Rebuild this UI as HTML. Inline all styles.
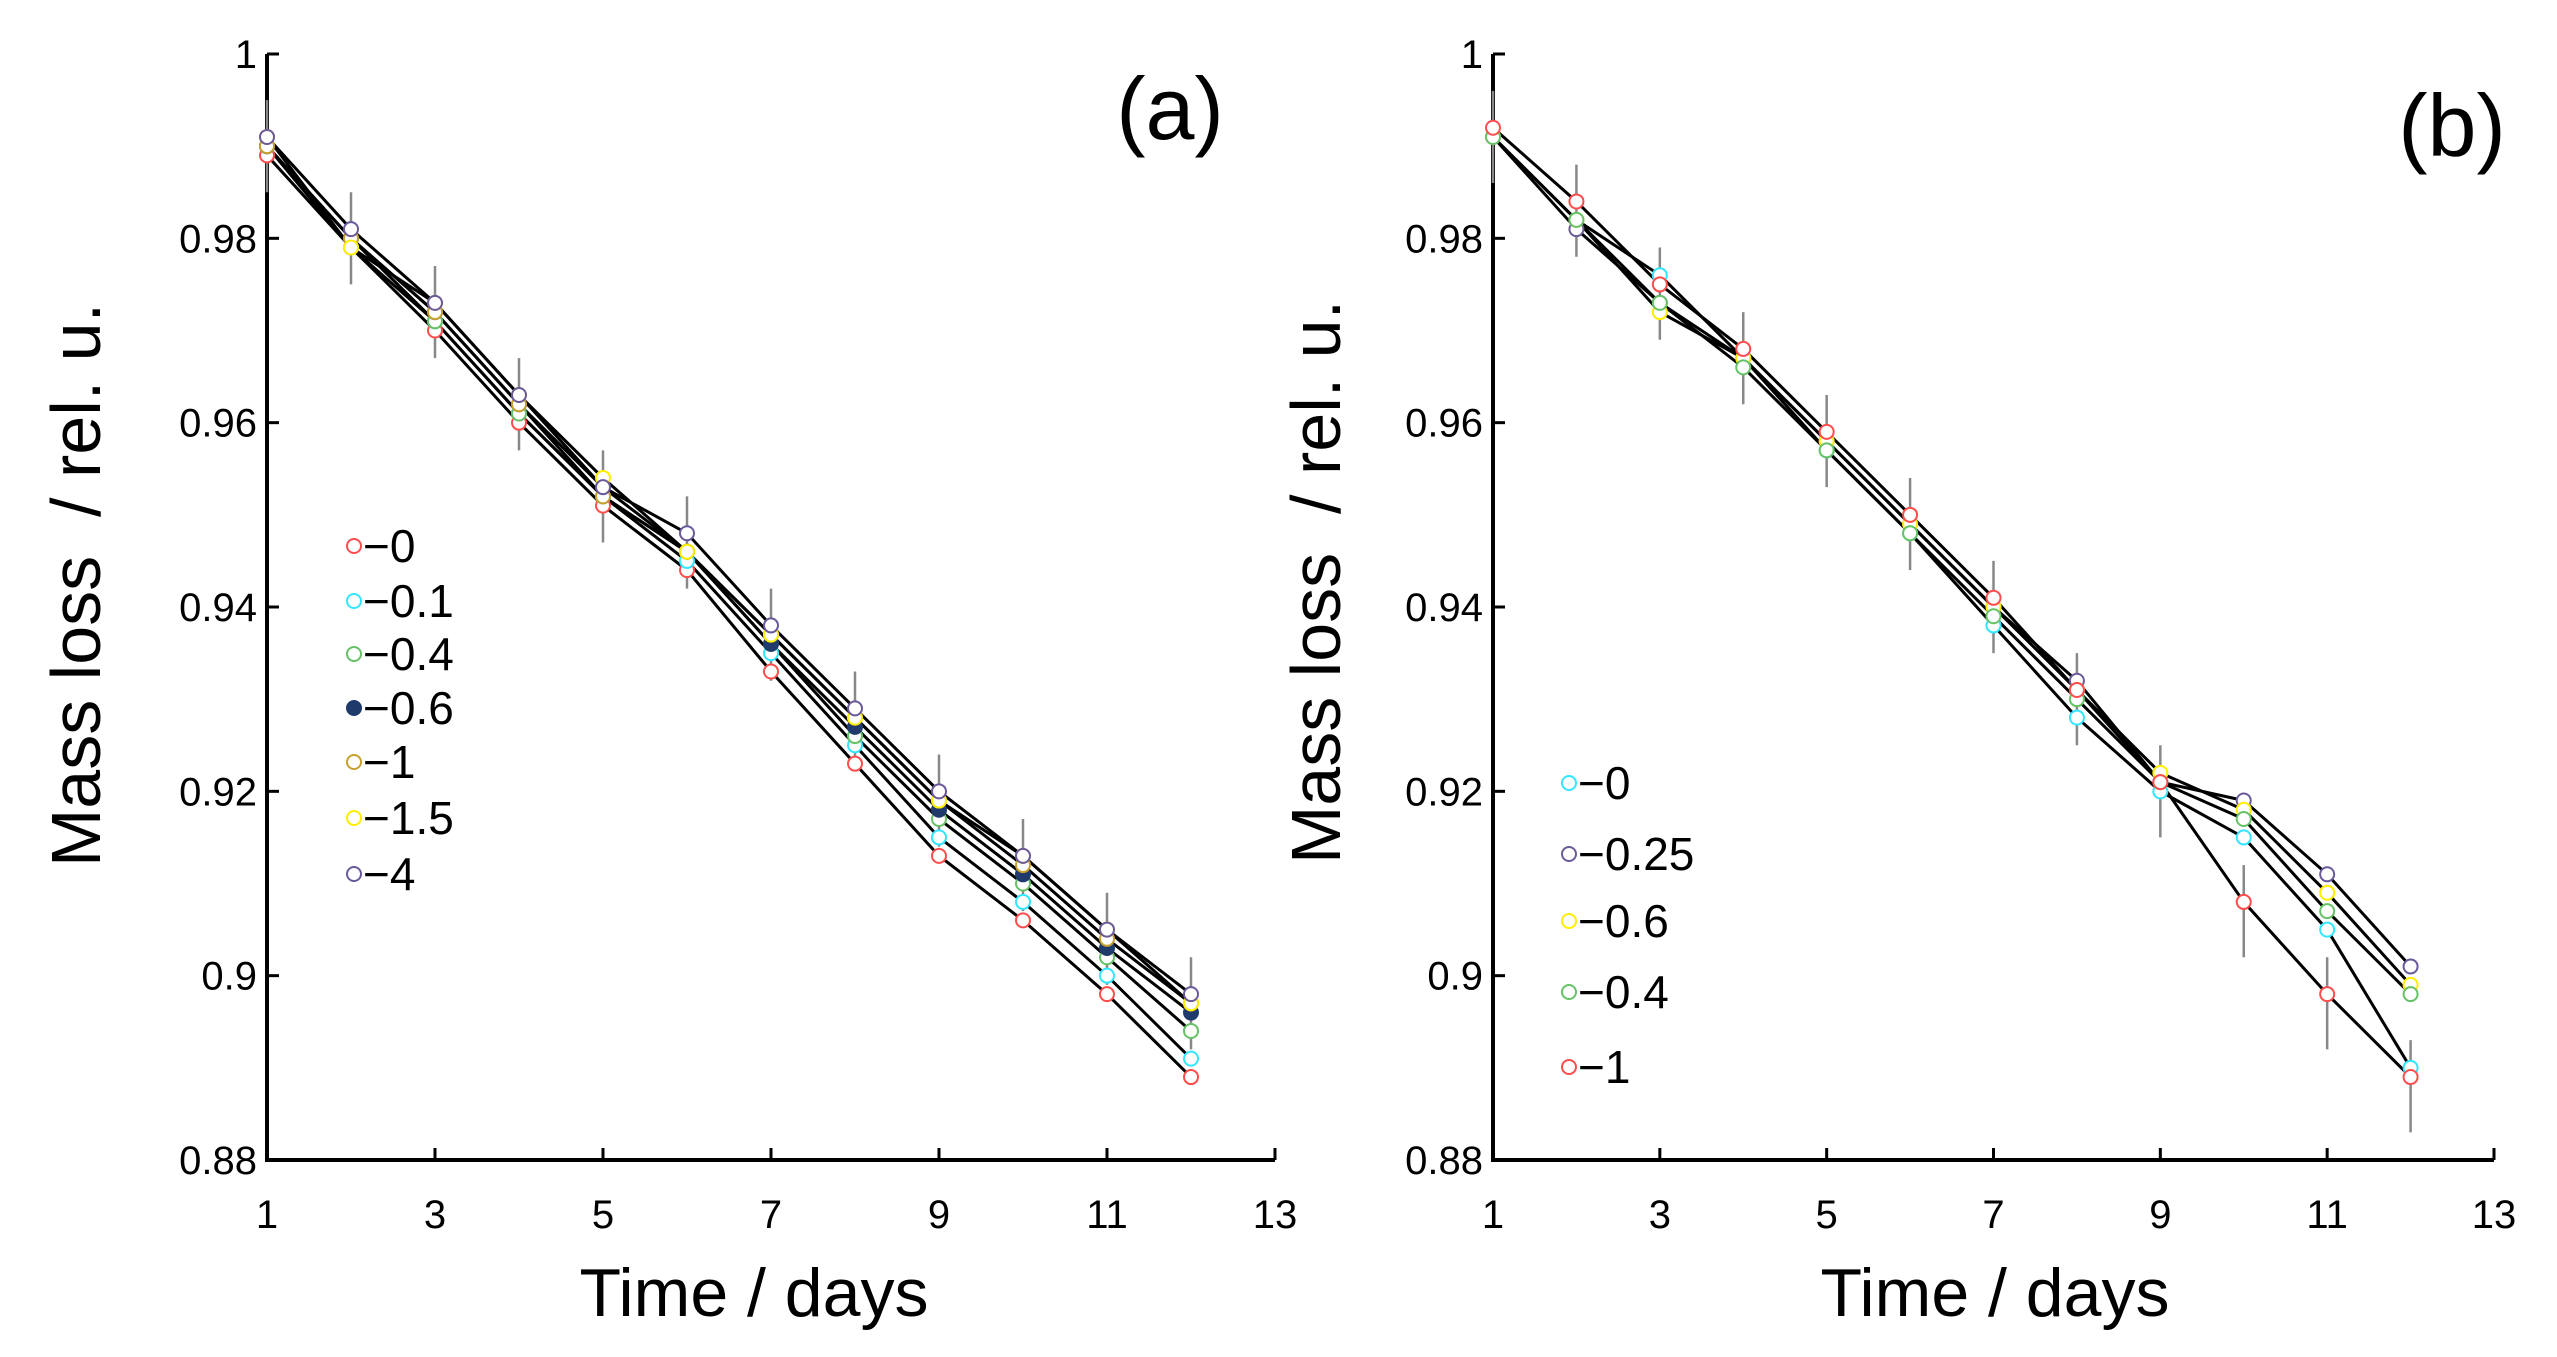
<!DOCTYPE html>
<html><head><meta charset="utf-8"><style>
html,body{margin:0;padding:0;background:#fff}
svg{display:block}
text{font-family:"Liberation Sans",Arial,sans-serif;fill:#000}
</style></head><body>
<svg id="chart" width="2557" height="1357" viewBox="0 0 2557 1357" xmlns="http://www.w3.org/2000/svg"></svg>
<script>
const days = [1,2,3,4,5,6,7,8,9,10,11,12];
const xTicks = [1,3,5,7,9,11,13];
const yTicks = [0.88,0.9,0.92,0.94,0.96,0.98,1];
const yTickLabels = ["0.88","0.9","0.92","0.94","0.96","0.98","1"];
const errA = 0.004;
const errB = 0.004;

const namesA = ["−0","−0.1","−0.4","−0.6","−1","−1.5","−4"];
const colorsA = ["#ff4d4d","#33e6ff","#66c266","#1f3a6b","#c8a030","#ffee00","#6a5a9a"];
const a0 = [.989,.979,.970,.960,.951,.944,.933,.923,.913,.906,.898,.889];
const a01 = [.990,.979,.971,.961,.952,.945,.935,.925,.915,.908,.900,.891];
const a04 = [.990,.980,.971,.961,.952,.946,.936,.926,.917,.910,.902,.894];
const a06 = [.990,.980,.972,.962,.953,.946,.936,.927,.918,.911,.903,.896];
const a1 = [.990,.980,.972,.962,.952,.946,.937,.928,.919,.912,.904,.897];
const a15 = [.991,.979,.973,.963,.954,.946,.937,.928,.919,.913,.905,.897];
const a4 = [.991,.981,.973,.963,.953,.948,.938,.929,.920,.913,.905,.898];
const seriesA = [a0,a01,a04,a06,a1,a15,a4];

const namesB = ["−0","−0.25","−0.6","−0.4","−1"];
const colorsB = ["#33e6ff","#6a5a9a","#ffee00","#66c266","#ff4d4d"];
const b0 = [.991,.982,.976,.967,.957,.948,.938,.928,.920,.915,.905,.890];
const b025 = [.991,.981,.973,.967,.958,.949,.940,.932,.921,.919,.911,.901];
const b06 = [.991,.982,.972,.967,.958,.949,.940,.931,.922,.918,.909,.899];
const b04 = [.991,.982,.973,.966,.957,.948,.939,.930,.921,.917,.907,.898];
const b1 = [.992,.984,.975,.968,.959,.950,.941,.931,.921,.908,.898,.889];
const seriesB = [b0,b025,b06,b04,b1];

const NS = "http://www.w3.org/2000/svg";
const svg = document.getElementById("chart");
function mk(tag, attrs, parent){const e=document.createElementNS(NS,tag);for(const k in attrs)e.setAttribute(k,attrs[k]);(parent||svg).appendChild(e);return e;}

function panel(opt){
  const g = mk("g",{});
  
  
  const x = v => opt.x0 + (v-1)/(13-1)*(opt.x1-opt.x0);
  const y = v => opt.y1 - (v-0.88)/(1-0.88)*(opt.y1-opt.y0);
  const ax = mk("path",{d:`M${opt.x0},${opt.y0}V${opt.y1}H${opt.x1}`,stroke:"#000","stroke-width":4,fill:"none"},g);
  
  
  yTicks.forEach((t,i)=>{
    const yy=y(t);
    const l=mk("line",{x1:opt.x0,x2:opt.x0+12,y1:yy,y2:yy,stroke:"#000","stroke-width":3},g);
    
    
    const tx=mk("text",{x:opt.x0-10,y:yy+14,"text-anchor":"end","font-size":40},g);
    tx.textContent=yTickLabels[i];
    
    
  });
  xTicks.forEach(t=>{
    const xx=x(t);
    const l=mk("line",{x1:xx,x2:xx,y1:opt.y1,y2:opt.y1-12,stroke:"#000","stroke-width":3},g);
    
    
    const tx=mk("text",{x:xx,y:1228,"text-anchor":"middle","font-size":40},g);
    tx.textContent=String(t);
    
    
  });
  const xt=mk("text",{x:opt.xtx,y:1316,"text-anchor":"middle","font-size":68},g);
  xt.textContent="Time / days";
  
  
  const yt=mk("text",{x:0,y:0,"text-anchor":"middle","font-size":70,transform:`translate(${opt.ytx},${opt.yty}) rotate(-90)`},g);
  yt.textContent="Mass loss\u00a0 / rel. u.";
  
  
  const pl=mk("text",{x:opt.plx,y:opt.ply,"text-anchor":"middle","font-size":88},g);
  pl.textContent=opt.label;
  
  
  const eb = opt.series[opt.series.length-1];
  days.forEach((d,i)=>{
    const l=mk("line",{x1:x(d),x2:x(d),y1:y(eb[i]+opt.err),y2:y(eb[i]-opt.err-0.002),stroke:"#888","stroke-width":2.5},g);
    
    
  });
  opt.series.forEach((s,si)=>{
    const p=mk("polyline",{points:s.map((v,i)=>x(days[i])+","+y(v)).join(" "),fill:"none",stroke:"#000","stroke-width":3},g);
    
    
  });
  opt.series.forEach((s,si)=>{
    const filled = opt.filled && opt.filled[si];
    s.forEach((v,i)=>{
      const c=mk("circle",{cx:x(days[i]),cy:y(v),r:7,fill:filled?opt.colors[si]:"#fff",stroke:opt.colors[si],"stroke-width":2},g);
      
      
    });
  });
  opt.names.forEach((n,i)=>{
    const ly=opt.legY[i];
    const filled = opt.filled && opt.filled[i];
    const c=mk("circle",{cx:opt.legX,cy:ly,r:7,fill:filled?opt.colors[i]:"#fff",stroke:opt.colors[i],"stroke-width":2},g);
    
    
    const t=mk("text",{x:opt.legX+9,y:ly+16,"font-size":46},g);
    t.textContent=n;
    
    
  });
}

panel({id:"panel-a",x0:267,x1:1275,y0:54,y1:1160,series:seriesA,colors:colorsA,names:namesA,
  filled:[false,false,false,true,false,false,false],err:errA,
  legX:354,legY:[546,601,654,708,762,818,874],xtx:754,ytx:100,yty:585,label:"(a)",plx:1170,ply:139});
panel({id:"panel-b",x0:1493,x1:2494,y0:54,y1:1160,series:seriesB,colors:colorsB,names:namesB,
  err:errB,legX:1569,legY:[783,854,921,992,1067],xtx:1995,ytx:1340,yty:582,label:"(b)",plx:2452,ply:156});
</script>
</body></html>
